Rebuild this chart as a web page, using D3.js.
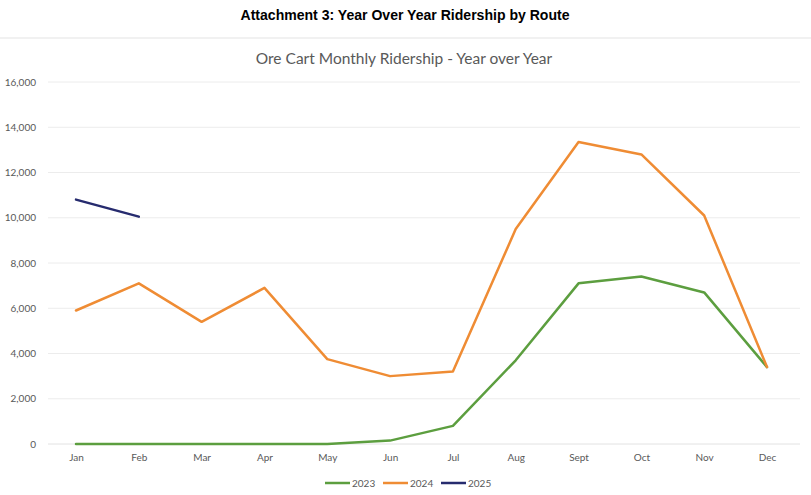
<!DOCTYPE html>
<html><head><meta charset="utf-8">
<script src="https://cdn.jsdelivr.net/npm/d3@7"></script>
<style>
body{margin:0;background:#fff;}
svg{display:block;}
</style></head>
<body>
<svg id="c" width="811" height="495"></svg>
<script>
const months = ["Jan","Feb","Mar","Apr","May","Jun","Jul","Aug","Sept","Oct","Nov","Dec"];
const series2023 = [0,0,0,0,0,150,800,3700,7100,7400,6700,3400];
const series2024 = [5900,7100,5400,6900,3750,3000,3200,9500,13350,12800,10100,3400];
const series2025 = [10800,10050];
const yTicks = [0,2000,4000,6000,8000,10000,12000,14000,16000];
const seriesNames = ["2023","2024","2025"];
const seriesColors = ["#5c9e3f","#ef8c34","#262b6e"];

const svg = d3.select("#c");
const W = 811, H = 495;

svg.append("text").attr("x",405).attr("y",20).attr("text-anchor","middle")
  .attr("font-family","Liberation Sans, Arial, sans-serif").attr("font-weight","bold")
  .attr("font-size",14).attr("fill","#000")
  .attr("textLength",329).attr("lengthAdjust","spacingAndGlyphs")
  .text("Attachment 3: Year Over Year Ridership by Route");
svg.append("line").attr("x1",0).attr("x2",W).attr("y1",38).attr("y2",38)
  .attr("stroke","#ececec").attr("stroke-width",1.5);
svg.append("text").attr("x",404).attr("y",64).attr("text-anchor","middle")
  .attr("font-family","Lato, sans-serif").attr("font-size",15.5).attr("fill","#595959")
  .text("Ore Cart Monthly Ridership - Year over Year");

const x = d3.scalePoint().domain(months).range([76,767]);
const y = d3.scaleLinear().domain([0,16000]).range([444,82]);

const grid = svg.append("g");
grid.selectAll("line").data(yTicks.filter(d=>d>0)).join("line")
  .attr("x1",48).attr("x2",800).attr("y1",d=>y(d)).attr("y2",d=>y(d))
  .attr("stroke","#ececec").attr("stroke-width",1);
grid.append("line").attr("x1",48).attr("x2",800).attr("y1",y(0)).attr("y2",y(0))
  .attr("stroke","#e2e2e2").attr("stroke-width",1);

const fmt = d3.format(",");
const yAxis = d3.axisLeft(y).tickValues(yTicks).tickFormat(fmt).tickSize(0).tickPadding(0);
const ya = svg.append("g").attr("transform","translate(36,0)").call(yAxis);
ya.select(".domain").remove();
ya.selectAll("text").attr("font-family","Lato, sans-serif").attr("font-size",10).attr("fill","#595959");

const xAxis = d3.axisBottom(x).tickSize(0).tickPadding(0);
const xa = svg.append("g").attr("transform","translate(0,454)").call(xAxis);
xa.select(".domain").remove();
xa.selectAll("text").attr("font-family","Lato, sans-serif").attr("font-size",10).attr("fill","#595959");

const line = d3.line().x((d,i)=>x(months[i])).y(d=>y(d));
const data = [series2023, series2024, series2025];
data.forEach((s,k)=>{
  svg.append("path").datum(s).attr("d",line).attr("fill","none")
    .attr("stroke",seriesColors[k]).attr("stroke-width",2.5)
    .attr("stroke-linejoin","round").attr("stroke-linecap","round");
});

const legX = [325,383,441];
const lg = svg.append("g");
seriesNames.forEach((n,k)=>{
  lg.append("line").attr("x1",legX[k]).attr("x2",legX[k]+25).attr("y1",483).attr("y2",483)
    .attr("stroke",seriesColors[k]).attr("stroke-width",2.5);
  lg.append("text").attr("x",legX[k]+27).attr("y",487).attr("font-family","Lato, sans-serif")
    .attr("font-size",10).attr("fill","#595959").text(n);
});
</script>
</body></html>
